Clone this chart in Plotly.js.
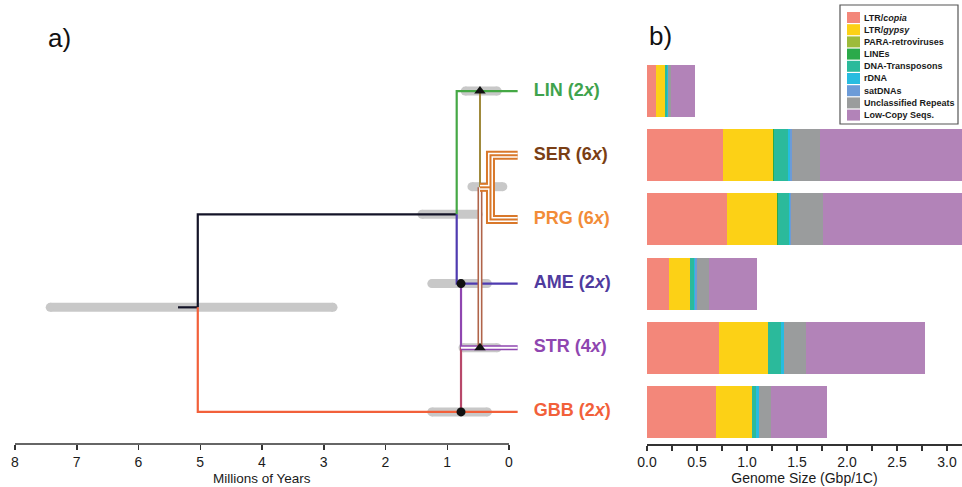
<!DOCTYPE html>
<html><head><meta charset="utf-8">
<script src="https://cdn.plot.ly/plotly-3.0.1.min.js"></script>
<style>html,body{margin:0;padding:0;background:#fff}#chart{width:962px;height:487px}</style>
</head><body><div id="chart"></div>
<script>
// ---------------- DATA ----------------
const species = ['LIN','SER','PRG','AME','STR','GBB'];
const ploidy = ['2','6','6','2','4','2'];
const speciesColors = ['#3FA34D','#7A3E14','#F28C38','#4F3B9E','#8F46B0','#F2603A'];
const rows = [0,1,2,3,4,5];

const categories = ['LTR/<i>copia</i>','LTR/<i>gypsy</i>','PARA-retroviruses','LINEs','DNA-Transposons','rDNA','satDNAs','Unclassified Repeats','Low-Copy Seqs.'];
const catColors = ['#F3877A','#FCD116','#9DBB3A','#2BAA4A','#2BBA9B','#27BCE0','#6C9BD8','#9A9C9D','#B283B8'];
// Genome size components (Gbp/1C), order: LIN, SER, PRG, AME, STR, GBB
const ltrCopia     = [0.087,0.755,0.795,0.217,0.717,0.690];
const ltrGypsy     = [0.090,0.505,0.505,0.217,0.490,0.360];
const paraRetro    = [0,0,0,0,0,0];
const lineEls      = [0,0.005,0.005,0,0.005,0];
const dnaTrans     = [0.025,0.140,0.110,0.033,0.128,0.037];
const rDNA         = [0.005,0.020,0.010,0.010,0.030,0.033];
const satDNA       = [0,0.020,0.010,0.027,0,0];
const unclassified = [0.037,0.280,0.320,0.113,0.217,0.120];
const lowCopy      = [0.233,1.900,1.800,0.483,1.193,0.560];
const seriesList = [ltrCopia,ltrGypsy,paraRetro,lineEls,dnaTrans,rDNA,satDNA,unclassified,lowCopy];

// Tree (ages in Myr, rows as above)
const tipAge = -0.14;
const rootAge = 5.04, rootRow = 3.37, rootStubAge = 5.36;
const splitAge = 0.847, splitRow = 1.92;
const strOriginAge = 0.777;
const hexOriginAge = 0.47, hexBracketAge = 0.30, hexRow = 1.5;
const hpdRows  = [3.37, 1.92, 0, 1.49, 3, 4, 5];
const hpdOld   = [7.43, 1.41, 0.71, 0.60, 1.25, 0.745, 1.25];
const hpdYoung = [2.85, 0.50, 0.19, 0.10, 0.35, 0.19, 0.35];
const triAges = [0.47, 0.47], triRows = [0, 4];
const dotAges = [0.777, 0.777], dotRows = [3, 5];
const timeTicks = [8,7,6,5,4,3,2,1,0];
const labelAge = -0.40;

// ---------------- BUILD ----------------
const W = 962, H = 487, mT = 59, mB = 43;
const plotH = H - mT - mB;
const py = p => 1 - (p - mT) / plotH;
const px = p => p / W;

const traces = [];
function seg(x, y, color, width) {
  traces.push({type:'scatter', mode:'lines', x:x, y:y, xaxis:'x', yaxis:'y',
    line:{color:color, width:width}, hoverinfo:'skip', showlegend:false});
}
// HPD bars
for (let i = 0; i < hpdRows.length; i++) {
  traces.push({type:'scatter', mode:'lines+markers', x:[hpdOld[i], hpdYoung[i]], y:[hpdRows[i], hpdRows[i]],
    xaxis:'x', yaxis:'y', line:{color:'#C8C8C8', width:9}, marker:{color:'#C8C8C8', size:9},
    hoverinfo:'skip', showlegend:false});
}
// branches
seg([rootStubAge, rootAge], [rootRow, rootRow], '#141428', 2.2);
seg([rootAge, rootAge, splitAge], [rootRow, splitRow, splitRow], '#141428', 2.2);
seg([rootAge, rootAge, tipAge], [rootRow, 5, 5], '#F2603A', 2.2);
seg([splitAge, splitAge, tipAge], [splitRow, 0, 0], '#45A845', 2.2);
seg([splitAge, splitAge, tipAge], [splitRow, 3, 3], '#4F3BB0', 2.2);
seg([strOriginAge, strOriginAge], [3, 4], '#8F46B0', 2.2);
seg([strOriginAge, strOriginAge], [4, 5], '#B8486A', 2.2);
// STR double line
seg([strOriginAge, tipAge], [4, 4], '#8F46B0', 5);
seg([strOriginAge, tipAge], [4, 4], '#ffffff', 1.8);
// LIN -> hexaploid parent line
seg([hexOriginAge, hexOriginAge], [0, hexRow], '#A08A3C', 2);
seg([hexOriginAge, hexOriginAge], [hexRow, 4], '#B0644A', 5);
seg([hexOriginAge, hexOriginAge], [hexRow, 4], '#ffffff', 1.8);
// hexaploid triple lines
const hexPathX = [tipAge, hexBracketAge, hexBracketAge, tipAge], hexPathY = [1, 1, 2, 2];
const hexStubX = [hexOriginAge, hexBracketAge], hexStubY = [hexRow, hexRow];
[['#D9782A', 9], ['#ffffff', 5], ['#D9782A', 2]].forEach(([c, w]) => {
  seg(hexStubX, hexStubY, c, w);
  seg(hexPathX, hexPathY, c, w);
});
// node markers
traces.push({type:'scatter', mode:'markers', x:triAges, y:triRows, xaxis:'x', yaxis:'y',
  marker:{symbol:'triangle-up', size:10, color:'#111'}, hoverinfo:'skip', showlegend:false});
traces.push({type:'scatter', mode:'markers', x:dotAges, y:dotRows, xaxis:'x', yaxis:'y',
  marker:{symbol:'circle', size:9, color:'#111'}, hoverinfo:'skip', showlegend:false});
// tip labels
traces.push({type:'scatter', mode:'text', x:rows.map(() => labelAge), y:rows, xaxis:'x', yaxis:'y',
  text:species.map((s, i) => `<b>${s} (${ploidy[i]}<i>x</i>)</b>`), textposition:'middle right',
  textfont:{family:'Liberation Sans, Arial, sans-serif', size:18, color:speciesColors},
  hoverinfo:'skip', showlegend:false, cliponaxis:false});
// stacked bars
seriesList.forEach((arr, k) => {
  traces.push({type:'bar', orientation:'h', x:arr, y:rows, xaxis:'x2', yaxis:'y', width:0.81,
    name:categories[k], marker:{color:catColors[k], line:{width:0}}, showlegend:false, hoverinfo:'skip'});
});

// legend (custom)
const shapes = [];
const annotations = [];
shapes.push({type:'line', xref:'x', yref:'paper', x0:8, x1:0, y0:0, y1:0, line:{color:'#333', width:1.5}});
shapes.push({type:'rect', xref:'paper', yref:'paper', x0:px(840), x1:px(958), y0:py(124), y1:py(5),
  line:{color:'#555', width:1.2}, fillcolor:'#ffffff'});
categories.forEach((c, i) => {
  const top = 12 + i * 12.2;
  shapes.push({type:'rect', xref:'paper', yref:'paper', x0:px(847), x1:px(860), y0:py(top + 11), y1:py(top),
    line:{width:0}, fillcolor:catColors[i]});
  annotations.push({xref:'paper', yref:'paper', x:px(862), y:py(top + 5.5), xanchor:'left', yanchor:'middle',
    text:`<b>${c}</b>`, showarrow:false, font:{family:'Liberation Sans, Arial, sans-serif', size:9, color:'#1a1a1a'}});
});
annotations.push({xref:'x', yref:'paper', x:4, y:py(479), xanchor:'center', yanchor:'middle', showarrow:false,
  text:'Millions of Years', font:{size:13.5, color:'#1a1a1a'}});
annotations.push({xref:'paper', yref:'paper', x:px(59), y:py(38), xanchor:'center', yanchor:'middle', showarrow:false,
  text:'a)', font:{size:26, color:'#111'}});
annotations.push({xref:'paper', yref:'paper', x:px(660), y:py(36), xanchor:'center', yanchor:'middle', showarrow:false,
  text:'b)', font:{size:26, color:'#111'}});

const layout = {
  width:W, height:H, margin:{l:0, r:0, t:mT, b:mB, pad:0},
  paper_bgcolor:'#ffffff', plot_bgcolor:'rgba(0,0,0,0)', showlegend:false,
  barmode:'stack', bargap:0,
  font:{family:'Liberation Sans, Arial, sans-serif', color:'#1a1a1a'},
  xaxis:{domain:[15/W, 640/W], range:[8, 8 - 625/61.75], tickmode:'array', tickvals:timeTicks,
    ticks:'outside', ticklen:5, tickwidth:1.5, tickcolor:'#333', showline:false, showgrid:false,
    zeroline:false, tickfont:{size:14, color:'#1a1a1a'}, anchor:'y'},
  xaxis2:{domain:[647/W, 1], range:[0, 3.15], anchor:'y', tickmode:'linear', tick0:0, dtick:0.5,
    tickformat:'.1f', ticks:'outside', ticklen:5, tickwidth:1.5, tickcolor:'#333',
    showline:true, linecolor:'#333', linewidth:1.5, showgrid:false, zeroline:false,
    tickfont:{size:14, color:'#1a1a1a'},
    minor:{dtick:0.25, ticks:'outside', ticklen:5, tickwidth:1.5, tickcolor:'#333', showgrid:false},
    title:{text:'Genome Size (Gbp/1C)', font:{size:14, color:'#1a1a1a'}, standoff:2}},
  yaxis:{range:[5.5, -0.5], visible:false},
  shapes:shapes, annotations:annotations
};
Plotly.newPlot('chart', traces, layout, {staticPlot:true, displayModeBar:false});
</script>
</body></html>
